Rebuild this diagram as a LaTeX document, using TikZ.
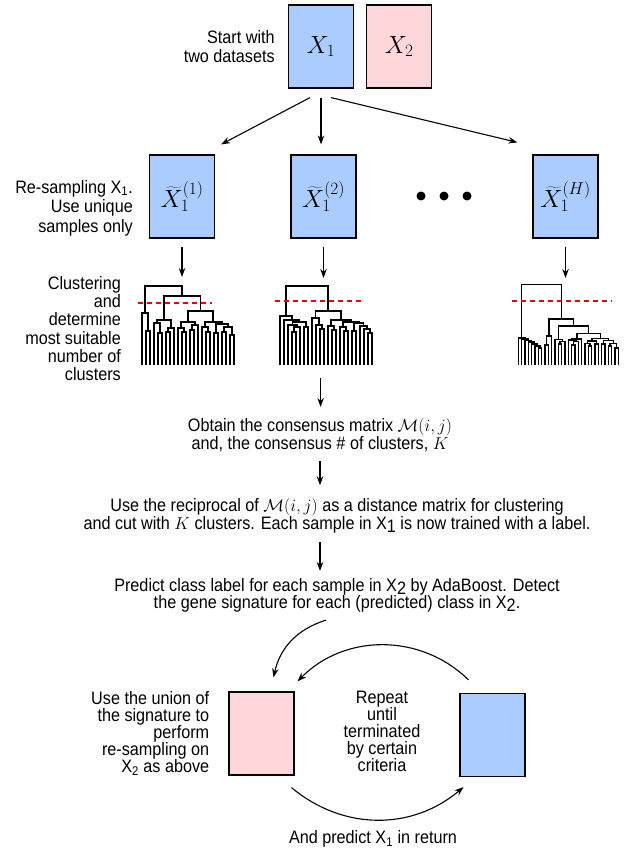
\documentclass[tikz,border=0pt]{standalone}
\usepackage[no-math]{fontspec}
\setmainfont[FakeStretch=0.9]{Liberation Sans}
\usetikzlibrary{arrows.meta, positioning}
\definecolor{boxblue}{RGB}{170,204,255}
\definecolor{boxpink}{RGB}{255,214,218}
\definecolor{cutred}{RGB}{235,0,0}
\newcommand{\lowdig}[1]{\raisebox{-0.3ex}{#1}}

\tikzset{
  databox/.style={draw, line width=1.2pt, minimum width=65pt, minimum height=83pt,
    inner sep=0, font=\fontsize{24}{26}\selectfont},
  bluebox/.style={databox, fill=boxblue},
  pinkbox/.style={databox, fill=boxpink},
  note/.style={font=\fontsize{18}{18.5}\selectfont, inner sep=0, align=right},
  midnote/.style={font=\fontsize{18}{17}\selectfont, inner sep=0, align=center},
  arrowline/.style={-{Stealth[length=9pt, width=6.5pt]}, line width=1.1pt},
  dot/.style={circle, fill, inner sep=0, minimum size=9pt},
  dendro/.style={line width=1.8pt},
  cutline/.style={draw=cutred, line width=1.3pt, dash pattern=on 5pt off 4pt},
}

\begin{document}
\begin{tikzpicture}[x=1pt, y=-1pt]
    \useasboundingbox (0,0) rectangle (631,853);

    % Two datasets
    \node[bluebox] (x1) at (321,46.5) {$X_1$};
    \node[pinkbox, right=12pt of x1] (x2) {$X_2$};
    \node[note, left=13pt of x1] (lstart) {Start with\\two datasets};

    % Re-sampled sets
    \node[bluebox] (r1) at (182,196.5) {$\widetilde{X}_1^{(1)}$};
    \node[bluebox] (r2) at (323.5,196.5) {$\widetilde{X}_1^{(2)}$};
    \node[bluebox] (rh) at (565.5,196.5) {$\widetilde{X}_1^{(H)}$};
    \foreach \i/\x in {1/421, 2/444, 3/467}
        \node[dot] (dot\i) at (\x,196) {};
    \node[note, anchor=east, font=\fontsize{18}{19.5}\selectfont] (lres) at (133,208)
        {Re-sampling X\textsubscript{1}.\\Use unique\\samples only};

    \draw[arrowline] ([xshift=-11pt, yshift=-9pt]x1.south) -- ([xshift=6pt, yshift=10pt]r1.north east);
    \draw[arrowline, shorten <=9pt, shorten >=10pt] (x1.south) -- (x1.south |- r2.north);
    \draw[arrowline] ([xshift=10pt, yshift=-9pt]x1.south) -- ([xshift=-15pt, yshift=12pt]rh.north west);

    % Dendrograms
    \coordinate (d1) at (182,277);
    \coordinate (d2) at (323.5,278);
    \coordinate (d3) at (565.5,278);
    \foreach \b/\d in {r1/d1, r2/d2, rh/d3}
        \draw[arrowline, shorten <=8pt] (\b.south) -- (\d);

    \begin{scope}[shift={(130,270)}, scale=1/3, dendro]
        \foreach \xa/\ya/\xb/\yb/\h in {
            47/285/59/285/183, 35/285/53/183/128,
            83/285/95/285/190, 71/285/89/190/160, 107/285/119/285/185,
            113/185/131/285/175, 80/160/122/175/150,
            155/285/167/285/185, 143/285/161/185/175, 179/285/191/285/180,
            185/180/203/285/165, 152/175/194/165/157,
            227/285/239/285/185, 215/285/233/185/170, 251/285/263/285/190,
            275/285/287/285/185, 299/285/311/285/195, 281/185/305/195/170,
            257/190/293/170/162, 224/170/275/162/155,
            173/157/249.5/155/122, 101/150/211.25/122/77, 44/128/156.1/77/47}
            \draw (\xa,\ya) |- (\xb,\h) -- (\xb,\yb);
    \end{scope}

    \begin{scope}[shift={(265,270)}, scale=1/3, dendro]
        \foreach \xa/\ya/\xb/\yb/\h in {
            81/285/93/285/185, 87/185/105/285/172, 69/285/96/172/165,
            117/285/129/285/170, 82.5/165/123/170/155, 57/285/102.75/155/150,
            45/285/79.9/150/138,
            165/285/177/285/178, 153/285/171/178/165, 141/285/162/165/145,
            201/285/213/285/180, 189/285/207/180/168,
            237/285/249/285/182, 225/285/243/182/170, 261/285/273/285/182,
            309/285/321/285/188, 297/285/315/188/178, 285/285/306/178/168,
            267/182/295.5/168/160, 234/170/281.25/160/155,
            198/168/257.6/155/150, 151.5/145/227.8/150/122, 62.4/138/189.65/122/47}
            \draw (\xa,\ya) |- (\xb,\h) -- (\xb,\yb);
    \end{scope}

    \begin{scope}[shift={(500,270)}, scale=1/3, dendro, line width=1.4pt]
        \foreach \xa/\ya/\xb/\yb/\h in {
            115/285/125/285/234, 105/285/120/234/228, 95/285/112.5/228/222,
            85/285/103.75/222/216, 75/285/94.4/216/211, 65/285/84.7/211/207,
            55/285/74.8/207/204,
            135/285/145/285/225, 140/225/155/285/198,
            175/285/185/285/222, 180/222/195/285/215, 165/285/187.5/215/208,
            215/285/225/285/225, 220/225/235/285/215, 205/285/227.5/215/210,
            216.25/210/245/285/207,
            265/285/275/285/228, 255/285/270/228/220, 285/285/295/285/222,
            262.5/220/290/222/213,
            305/285/315/285/222, 325/285/335/285/228, 345/285/355/285/234,
            330/228/350/234/220, 310/222/340/220/212,
            276.25/213/325/212/205, 230.6/207/300.6/205/190,
            176.25/208/265.6/190/168, 147.5/198/220.9/168/147, 64.9/204/184.2/147/43}
            \draw (\xa,\ya) |- (\xb,\h) -- (\xb,\yb);
    \end{scope}

    % Cut levels
    \draw[cutline] (138,303) -- (212,303);
    \draw[cutline] (275,301) -- (362,301);
    \draw[cutline] (512,301) -- (612,301);

    \node[note, anchor=east, font=\fontsize{18}{18.2}\selectfont] (lclust) at (121,328.5)
        {Clustering\\and\\determine\\most suitable\\number of\\clusters};

    % Consensus and labelling
    \coordinate (d2b) at (320.6,378);
    \node[midnote] (cons) at (320,435)
        {Obtain the consensus matrix $\mathcal{M}(i,j)$\\and, the consensus \# of clusters, $K$};
    \node[midnote] (recip) at (337,516)
        {Use the reciprocal of $\mathcal{M}(i,j)$ as a distance matrix for clustering\\
         and cut with $K$ clusters. Each sample in X\lowdig{1} is now trained with a label.};
    \node[midnote] (pred) at (337,595)
        {Predict class label for each sample in X\lowdig{2} by AdaBoost. Detect\\
         the gene signature for each (predicted) class in X\lowdig{2}.};

    \draw[arrowline, shorten >=11pt] (d2b) -- (d2b |- cons.north);
    \draw[arrowline, shorten <=9pt, shorten >=13pt] (cons.south) -- (cons.south |- recip.north);
    \draw[arrowline, shorten <=8pt, shorten >=7pt] (cons.south |- recip.south) -- (cons.south |- pred.north);

    % Iteration between the two sets
    \node[pinkbox] (pk) at (261.5,733.5) {};
    \node[bluebox] (bl) at (492.5,735) {};
    \node[note, left=19pt of pk, font=\fontsize{18}{17}\selectfont] (lunion)
        {Use the union of\\the signature to\\perform\\re-sampling on\\X\textsubscript{2} as above};
    \node[midnote] (lrepeat) at (382,731.5) {Repeat\\until\\terminated\\by certain\\criteria};
    \node[midnote] (lreturn) at (373,839) {And predict X\textsubscript{1} in return};

    \draw[arrowline] ([xshift=-11pt, yshift=-8pt]pred.south) to[bend right=30] ([xshift=12pt, yshift=14pt]pk.north);
    \draw[arrowline] ([xshift=-24pt, yshift=13pt]bl.north) to[bend right=45] ([xshift=36pt, yshift=10pt]pk.north);
    \draw[arrowline] ([xshift=30pt, yshift=-12pt]pk.south) to[bend right=40] ([xshift=-29pt, yshift=-10pt]bl.south);
\end{tikzpicture}
\end{document}
